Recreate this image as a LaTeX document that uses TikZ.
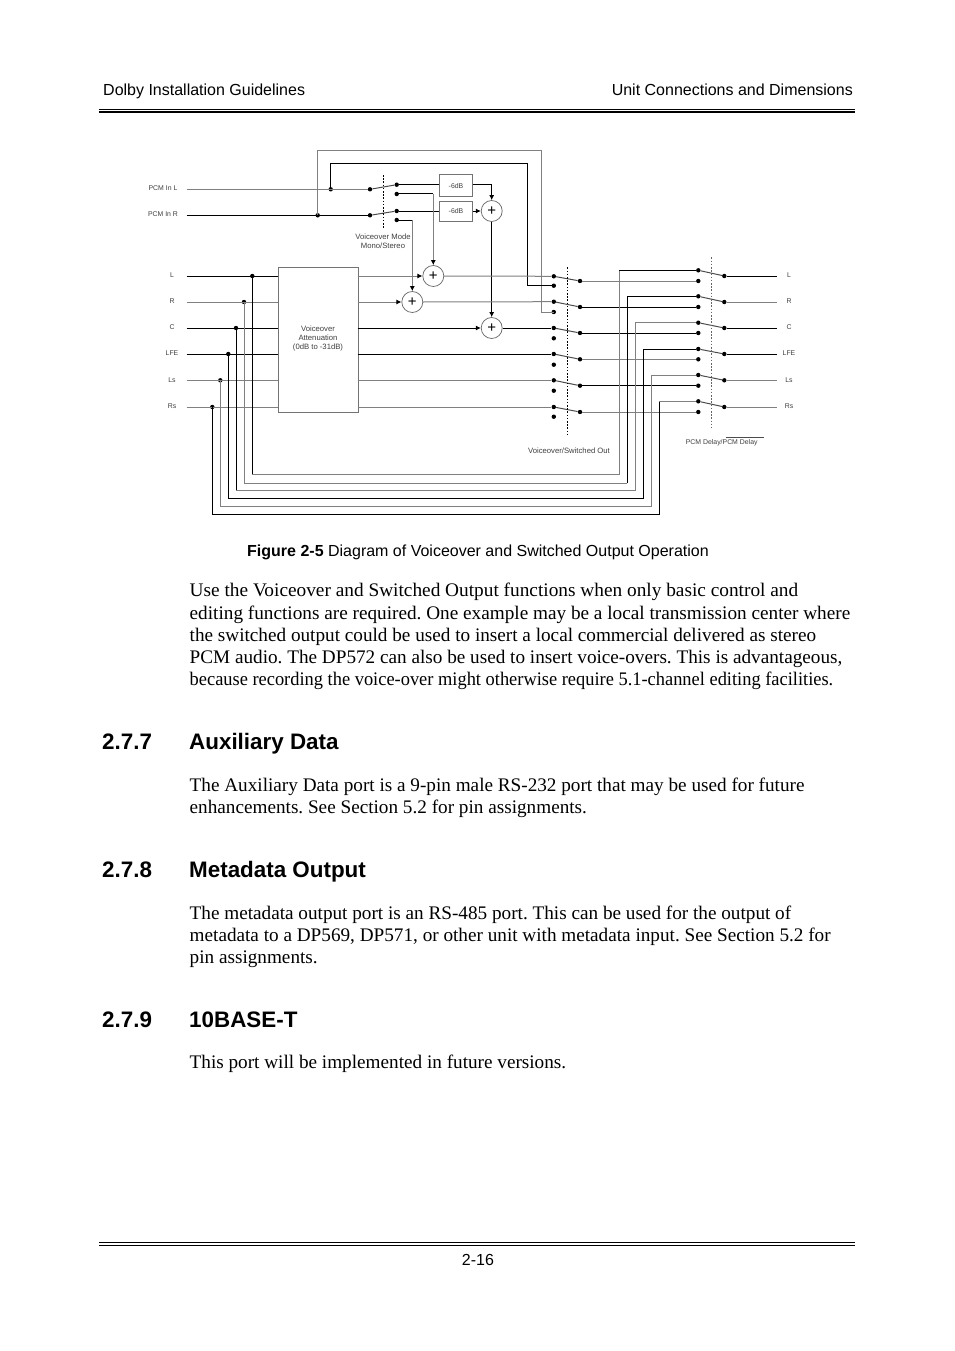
\documentclass[tikz,border=0pt]{standalone}
\usepackage{fontspec}
\setmainfont{Liberation Serif}
\setsansfont{Liberation Sans}
\usetikzlibrary{arrows.meta}
\tikzset{
 gl/.style={draw=black!50,line width=1pt},
 bl/.style={draw=black,line width=1pt},
 dot/.style={circle,fill=black,inner sep=0pt,minimum size=4.4pt},
 box/.style={draw=black!55,line width=1pt,fill=white,inner sep=0pt,anchor=north west},
 sum/.style={circle,draw=black!60,line width=0.7pt,fill=white,minimum size=21pt,inner sep=0pt,font=\sffamily\fontsize{15}{15}\selectfont},
 lab/.style={font=\sffamily\fontsize{6.9}{9}\selectfont,text=black!75,inner sep=0pt,align=center},
 labb/.style={font=\sffamily\fontsize{7.7}{9}\selectfont,text=black!75,inner sep=0pt,align=center},
 tip/.style={-{Latex[length=5pt,width=5pt,black]}},
 sw/.style={draw=black!70,line width=1pt},
 gang/.style={draw=black,line width=0.8pt,dash pattern=on 1.6pt off 1.6pt},
 hd/.style={font=\sffamily\fontsize{16}{16}\selectfont,inner sep=0pt,anchor=base west},
 body/.style={font=\rmfamily\frenchspacing\fontsize{19.2}{19.2}\selectfont,inner sep=0pt,anchor=base west},
 sec/.style={font=\sffamily\bfseries\fontsize{22.4}{22.4}\selectfont,inner sep=0pt,anchor=base west},
}
\begin{document}
\begin{tikzpicture}[x=1pt,y=-1pt]
\useasboundingbox (0,0) rectangle (954,1351);
\fill[white] (0,0) rectangle (954,1351);
% page furniture
\node[hd] (h1) at (103,95.2) {Dolby Installation Guidelines};
\node[hd,anchor=base east] (h2) at (853,95.2) {Unit Connections and Dimensions};
\coordinate (r1a) at (99,109.5); \coordinate (r1b) at (855,109.5);
\coordinate (r2a) at (99,112.3); \coordinate (r2b) at (855,112.3);
\draw[line width=1pt] (r1a)--(r1b);
\draw[line width=2pt] (r2a)--(r2b);
\coordinate (f1a) at (99,1242.5); \coordinate (f1b) at (855,1242.5);
\coordinate (f2a) at (99,1245.5); \coordinate (f2b) at (855,1245.5);
\draw[line width=1.3pt] (f1a)--(f1b);
\draw[line width=1.3pt] (f2a)--(f2b);
\node[hd,anchor=base] (pg) at (478,1265) {2-16};
% caption and text
\node[hd] (cap) at (247,556) {\textbf{Figure 2-5} Diagram of Voiceover and Switched Output Operation};
\node[body] (t1) at (189.5,596) {\resizebox{608.5pt}{\height}{Use the Voiceover and Switched Output functions when only basic control and}};
\node[body] (t2) at (189.5,619) {\resizebox{660.5pt}{\height}{editing functions are required. One example may be a local transmission center where}};
\node[body] (t3) at (189.5,641) {the switched output could be used to insert a local commercial delivered as stereo};
\node[body] (t4) at (189.5,663) {PCM audio. The DP572 can also be used to insert voice-overs. This is advantageous,};
\node[body] (t5) at (189.5,685) {\resizebox{643.5pt}{\height}{because recording the voice-over might otherwise require 5.1-channel editing facilities.}};
\node[sec] (s1) at (102,749) {2.7.7};\node[sec] (s1b) at (189,749) {Auxiliary Data};
\node[body] (t6) at (189.5,791) {The Auxiliary Data port is a 9-pin male RS-232 port that may be used for future};
\node[body] (t7) at (189.5,813) {enhancements. See Section 5.2 for pin assignments.};
\node[sec] (s2) at (102,877) {2.7.8};\node[sec] (s2b) at (189,877) {Metadata Output};
\node[body] (t8) at (189.5,919) {The metadata output port is an RS-485 port. This can be used for the output of};
\node[body] (t9) at (189.5,941) {metadata to a DP569, DP571, or other unit with metadata input. See Section 5.2 for};
\node[body] (t10) at (189.5,963) {pin assignments.};
\node[sec] (s3) at (102,1027) {2.7.9};\node[sec] (s3b) at (189,1027) {10BASE-T};
\node[body] (t11) at (189.5,1068) {This port will be implemented in future versions.};
% diagram labels
\node[lab] (lPL) at (163,188) {PCM In L};
\node[lab] (lPR) at (163,214.5) {PCM In R};
\foreach \t/\n/\y in {L/L/275,R/R/301,C/C/327,LFE/F/353.3,Ls/S/380,Rs/T/406.5}{
 \node[lab] (li\n) at (172,\y) {\t};
 \node[lab] (lo\n) at (789,\y) {\t};
}
\node[labb] (lvm) at (383,241.5) {Voiceover Mode\\Mono/Stereo};
\node[labb] (lvs) at (569,451) {Voiceover/Switched Out};
\node[lab] (lpd) at (721.7,442.5) {PCM Delay/PCM Delay};
\coordinate (ov1) at (726,437.3); \coordinate (ov2) at (763.5,437.3);
\draw[black!70,line width=0.5pt] (ov1)--(ov2);
% input ends
\coordinate (iPL) at (186.7,189.3); \coordinate (iPR) at (186.7,215.3);
\foreach \n/\y in {L/276,R/302,C/328,F/354,S/380.3,T/407}{
 \coordinate (i\n) at (186.7,\y);
 \coordinate (o\n) at (777.3,\y);
}
% box
\node[box,minimum width=79.4pt,minimum height=145.3pt] (att) at (278.3,267) {};
\node[labb] (attl) at (318,339) {Voiceover\\Attenuation\\(0dB to -31dB)};
\foreach \n/\y in {L/276,R/302,C/328,F/354,S/380.3,T/407}{\coordinate (ai\n) at (278.3,\y);\coordinate (ao\n) at (357.7,\y);}
% -6 dB boxes
\node[box,minimum width=32.4pt,minimum height=21.7pt] (g1) at (439.3,174.3) {};
\node[lab] (g1l) at (g1.center) {-6dB};
\node[box,minimum width=32.4pt,minimum height=20.6pt] (g2) at (439.3,200.7) {};
\node[lab] (g2l) at (g2.center) {-6dB};
% summers
\node[sum] (s0) at (491.7,211) {+};
\node[sum] (sL) at (433.3,276) {+};
\node[sum] (sR) at (412.3,302) {+};
\node[sum] (sC) at (491.7,328) {+};
% dots
\node[dot] (jPL) at (330.7,189.3) {};
\node[dot] (jPR) at (317.7,215.3) {};
\node[dot] (a1) at (370,189.3) {};
\node[dot] (a2) at (370,215.3) {};
\node[dot] (b1) at (396.7,184.7) {};
\node[dot] (b2) at (396.7,194) {};
\node[dot] (b3) at (396.7,211) {};
\node[dot] (b4) at (396.7,220) {};
\foreach \n/\x/\y in {L/252.3/276,R/244/302,C/236/328,F/228.3/354,S/220.3/380.3,T/212.3/407}{\node[dot] (j\n) at (\x,\y) {};}
\foreach \n/\a/\b/\c in {L/276.3/285.7/281,R/301.7/312/307,C/328/338.3/333,F/354/364.7/359.3,S/380.3/390.7/385.7,T/407/416.7/412}{
 \node[dot] (m\n) at (553.8,\a) {};
 \node[dot] (n\n) at (553.8,\b) {};
 \node[dot] (p\n) at (580,\c) {};
 \node[dot] (q\n) at (698.3,\c) {};
}
\foreach \n/\a/\c in {L/270.3/276,R/296.3/302,C/322.7/328,F/349/354,S/375/380.3,T/401.3/407}{
 \node[dot] (u\n) at (698.3,\a) {};
 \node[dot] (v\n) at (724.3,\c) {};
}
% corners of the bottom bus
\foreach \n/\x/\y/\t in {L/619.3/474.3/270.3,R/627.3/483.3/296.3,C/635.3/490.3/322.7,F/643.3/498.3/349,S/651.3/506.3/375,T/659.3/514.3/401.3}{
 \coordinate (br\n) at (\x,\y);
 \coordinate (tr\n) at (\x,\t);
}
\foreach \n/\x/\y in {L/252.3/474.3,R/244/483.3,C/236/490.3,F/228.3/498.3,S/220.3/506.3,T/212.3/514.3}{\coordinate (bl\n) at (\x,\y);}
\coordinate (rtop) at (541.7,150.3); \coordinate (ltop) at (527.7,163.3);
% PCM lines
\draw[gl] (iPL)--(a1);
\draw[bl] (iPR)--(a2);
\draw[gl] (jPR.center) -- (jPR|-rtop) -- (rtop) |- (nR.center);
\draw[bl] (jPL.center) -- (jPL|-ltop) -- (ltop) |- (nL.center);
\draw[sw] (a1)--(b1); \draw[sw] (a2)--(b3);
\draw[bl] (b1)--(g1.west|-b1);
\draw[bl] (b3)--(g2.west|-b3);
\draw[bl,tip] (g1.east|-b1) -| (s0.north);
\draw[bl,tip] (g2.east|-b3) -- (s0.west);
\draw[bl] (b2.center) -- (b2-|sL.north);
\draw[gl,tip] (b2-|sL.north) -- (sL.north);
\draw[bl] (b4.center) -- (b4-|sR.north);
\draw[gl,tip] (b4-|sR.north) -- (sR.north);
\draw[bl,tip] (s0.south) -- (sC.north);
% rows, inputs
\draw[bl] (iL)--(aiL); \draw[gl] (iR)--(aiR); \draw[bl] (iC)--(aiC);
\draw[bl] (iF)--(aiF); \draw[gl] (iS)--(aiS); \draw[gl] (iT)--(aiT);
% rows, outputs
\draw[gl,tip] (aoL)--(sL.west); \draw[gl] (sL.east)--(mL);
\draw[gl,tip] (aoR)--(sR.west); \draw[gl] (sR.east)--(mR);
\draw[bl,tip] (aoC)--(sC.west); \draw[bl] (sC.east)--(mC);
\draw[bl] (aoF)--(mF); \draw[gl] (aoS)--(mS); \draw[gl] (aoT)--(mT);
% switches
\foreach \n in {L,R,C,F,S,T}{\draw[sw] (m\n)--(p\n); \draw[sw] (u\n)--(v\n);}
\draw[gl] (pL)--(qL); \draw[bl] (pR)--(qR); \draw[bl] (pC)--(qC);
\draw[gl] (pF)--(qF); \draw[bl] (pS)--(qS); \draw[gl] (pT)--(qT);
% outputs
\draw[bl] (vL)--(oL); \draw[gl] (vR)--(oR); \draw[bl] (vC)--(oC);
\draw[bl] (vF)--(oF); \draw[gl] (vS)--(oS); \draw[gl] (vT)--(oT);
% bus
\draw[bl] (jL.center)--(blL); \draw[gl] (blL)--(brL)--(trL); \draw[bl] (trL)--(uL);
\draw[gl] (jR.center)--(blR)--(brR); \draw[bl] (brR)--(trR)--(uR);
\draw[bl] (jC.center)--(blC); \draw[gl] (blC)--(brC)--(trC)--(uC);
\draw[bl] (jF.center)--(blF)--(brF)--(trF)--(uF);
\draw[gl] (jS.center)--(blS)--(brS)--(trS)--(uS);
\draw[bl] (jT.center)--(blT)--(brT)--(trT); \draw[gl] (trT)--(uT);
% gang lines
\coordinate (d1a) at (383.3,175); \coordinate (d1b) at (383.3,228);
\coordinate (d2a) at (567.3,267.3); \coordinate (d2b) at (567.3,436.7);
\coordinate (d3a) at (711.3,257.3); \coordinate (d3b) at (711.3,427.3);
\draw[gang] (d1a)--(d1b); \draw[gang] (d2a)--(d2b); \draw[gang,draw=black!60] (d3a)--(d3b);
\end{tikzpicture}
\end{document}
